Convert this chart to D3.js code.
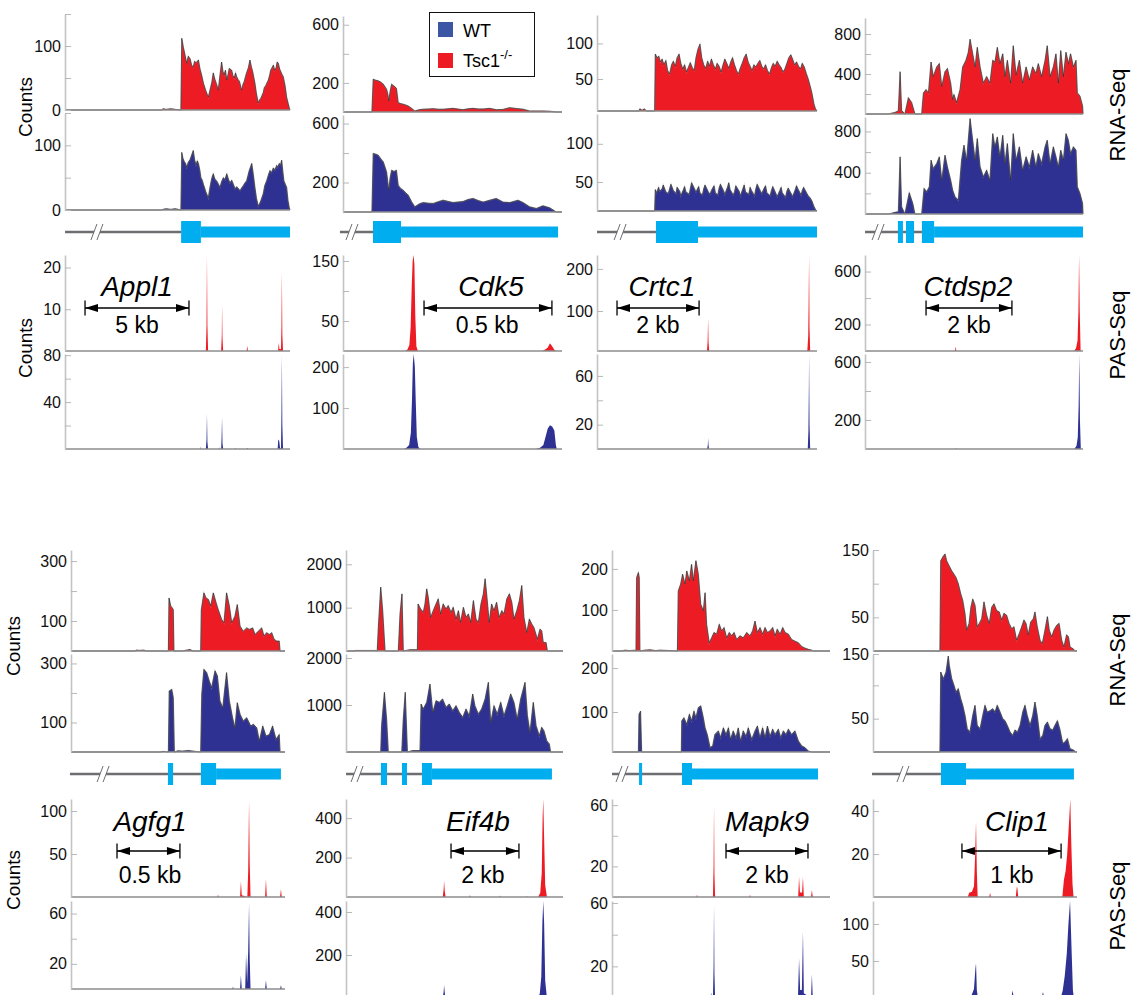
<!DOCTYPE html>
<html>
<head>
<meta charset="utf-8">
<script src="https://cdn.jsdelivr.net/npm/d3@7"></script>
<style>
  body { margin: 0; background: #fff; }
  svg { display: block; font-family: "Liberation Sans", Arial, sans-serif; }
</style>
</head>
<body>
<svg id="chart" width="1131" height="995"></svg>
<script>
// ---- data (positions are in 0-100 units along each gene window) ----
const geneNames = ['Appl1', 'Cdk5', 'Crtc1', 'Ctdsp2', 'Agfg1', 'Eif4b', 'Mapk9', 'Clip1'];
const scaleLabels = ['5 kb', '0.5 kb', '2 kb', '2 kb', '0.5 kb', '2 kb', '2 kb', '1 kb'];
const scaleBars = [[8.9, 55.1], [37, 95.4], [9.1, 46.4], [28, 67.4], [21.5, 50.9], [48.4, 79.7], [52.3, 89.9], [43.6, 92.2]];
const nameAt = [32, 67.6, 29.5, 47.2, 36.9, 60.8, 71.1, 70.6];
const kbAt = [32, 65.8, 27.7, 47.7, 36.9, 63.1, 71.1, 68.1];
const legendLabels = ['WT', 'Tsc1'];

// y domains and tick values per track
const rnaKODomain = [[0, 150], [0, 660], [5, 140], [0, 960], [0, 337], [0, 2330], [0, 246], [0, 150]];
const rnaWTDomain = [[0, 150], [0, 658], [12, 139], [0, 940], [0, 332], [0, 2085], [9, 232], [0, 147]];
const pasKODomain = [[0, 23], [0, 160], [5, 233], [0, 725], [0, 114], [0, 497], [0, 64], [0, 45.6]];
const pasWTDomain = [[0, 81], [0, 232], [0, 78], [0, 655], [0, 70], [0, 451], [0, 61.3], [0, 131]];
const rnaTicks = [[0, 100], [200, 600], [50, 100], [400, 800], [100, 300], [1000, 2000], [100, 200], [50, 150]];
const rnaMinor = [[50, 150], [400], [], [200, 600], [200], [], [], [100]];
const pasKOTicks = [[10, 20], [50, 150], [100, 200], [200, 600], [50, 100], [200, 400], [20, 60], [20, 40]];
const pasKOMinor = [[], [100], [], [400], [], [], [40], []];
const pasWTTicks = [[40, 80], [100, 200], [20, 60], [200, 600], [20, 60], [200, 400], [20, 60], [50, 100]];
const pasWTMinor = [[20, 60], [], [40], [400], [40], [], [40], []];

// gene models
const intronSpans = [[0, 51.6], [-1.4, 13.7], [0, 26.8], [0, 26.1], [-0.5, 60.7], [0, 35], [0, 32.1], [-0.5, 33.3]];
const breakAt = [14.2, 4.1, 10.5, 6.0, 15.0, 5.1, 4.6, 14.7];
const appl1Exons = [[51.6, 60.4, 1], [60.4, 100, 0]];
const cdk5Exons = [[13.7, 26.5, 1], [26.5, 98.2, 0]];
const crtc1Exons = [[26.8, 45.9, 1], [45.9, 100, 0]];
const ctdsp2Exons = [[15.1, 17.4, 1], [18.8, 22.5, 1], [26.1, 31.7, 1], [31.7, 100, 0]];
const agfg1Exons = [[45.3, 47.7, 1], [60.7, 67.8, 1], [67.8, 98.1, 0]];
const eif4bExons = [[16.1, 18.9, 1], [25.8, 28.1, 1], [35.0, 39.6, 1], [39.6, 94.9, 0]];
const mapk9Exons = [[12.4, 13.8, 1], [32.1, 36.7, 1], [36.7, 94.5, 0]];
const clip1Exons = [[33.3, 45.6, 1], [45.6, 98.5, 0]];

// RNA-Seq coverage [position, count]
const appl1RnaKO = [[0,0],[43,0],[43.5,2],[45,1],[47,2],[49,1],[51.5,0],[51.9,112],[52.6,98],[53.4,85],[54.1,73],[54.8,84],[55.6,80],[56.3,70],[57.0,67],[57.6,76],[58.2,74],[59.3,78],[60.0,64],[60.7,55],[61.5,42],[62.6,30],[63.7,20],[64.7,35],[65.3,44],[65.9,58],[66.6,48],[67.4,40],[68.1,31],[68.8,52],[69.6,75],[70.2,60],[70.7,55],[71.3,62],[71.9,47],[72.5,56],[73.0,65],[74.1,62],[74.6,54],[75.2,50],[75.8,58],[76.3,52],[77.0,47],[77.5,45],[78.5,31],[79.1,40],[79.7,45],[80.2,52],[80.7,58],[81.5,66],[82.2,78],[82.8,68],[83.4,60],[84.4,42],[85.1,25],[85.9,11],[86.5,16],[87.0,18],[88.1,27],[88.6,35],[89.2,38],[90.4,47],[91.0,55],[91.4,62],[92.0,66],[92.6,70],[93.2,62],[93.8,66],[94.3,75],[94.8,73],[95.4,64],[95.9,60],[96.4,56],[97.0,52],[97.8,38],[98.5,20],[99.2,10],[99.7,3],[100,0]];
const appl1RnaWT = [[0,0],[43,0],[43.5,1],[45,2],[47,1],[49,2],[51.5,0],[51.9,89],[52.4,80],[53.0,75],[53.6,72],[54.1,66],[54.8,74],[55.6,78],[56.3,85],[57.0,92],[57.6,78],[58.2,70],[58.8,76],[59.3,72],[59.9,62],[60.4,50],[61.0,46],[61.5,40],[62.6,28],[63.7,19],[64.2,30],[64.7,40],[65.3,50],[65.9,56],[66.6,48],[67.4,45],[68.2,40],[68.9,35],[69.6,44],[70.4,50],[71.1,47],[71.9,56],[72.6,48],[73.3,42],[74.1,46],[74.8,40],[75.6,33],[76.3,36],[77.1,33],[77.8,30],[78.5,34],[79.3,38],[80.0,42],[80.7,45],[81.3,53],[81.8,60],[82.4,66],[83.0,72],[83.7,55],[84.4,35],[85.1,18],[85.9,6],[86.5,10],[87.0,14],[88.1,25],[88.8,38],[89.6,45],[90.4,54],[91.1,61],[91.8,58],[92.6,65],[93.3,62],[94.1,69],[94.6,66],[95.2,72],[95.8,70],[96.3,77],[96.8,60],[97.3,45],[97.9,40],[98.5,35],[99.1,15],[99.7,3],[100,0]];
const cdk5RnaKO = [[0,0],[13.2,0],[13.8,225],[15.0,218],[16.1,214],[17.3,205],[18.4,191],[19.9,156],[20.5,120],[20.9,76],[21.5,140],[22.2,191],[23.3,178],[24.4,163],[25.2,64],[26.3,58],[27.5,53],[28.6,48],[29.8,41],[31.3,25],[32.8,7],[34.8,16],[36.6,19],[39.0,21],[41.2,23],[43.5,19],[45.7,19],[48.0,22],[50.3,25],[52.6,20],[54.8,16],[57.1,22],[59.4,25],[61.7,21],[64.0,21],[67.0,25],[70.0,16],[73.1,18],[76.1,30],[79.0,24],[82.2,19],[85.2,7],[88.3,7],[91.3,7],[94.4,5],[97.4,0],[100,0]];
const cdk5RnaWT = [[0,0],[13.2,0],[13.8,397],[15.0,392],[16.1,385],[17.3,360],[18.4,340],[19.9,272],[20.9,148],[21.5,230],[22.2,283],[23.3,275],[24.4,283],[25.2,182],[26.3,160],[27.5,148],[28.6,130],[29.8,114],[31.3,70],[32.8,35],[34.8,55],[36.6,64],[38.9,60],[41.2,58],[43.5,70],[45.7,80],[48.0,72],[50.3,64],[52.6,68],[54.8,71],[57.1,85],[59.4,92],[61.7,78],[64.0,67],[67.0,80],[70.0,92],[73.1,67],[76.1,64],[78.0,72],[79.9,80],[82.2,64],[85.2,35],[88.3,24],[91.3,42],[94.4,28],[97.4,0],[100,0]];
const crtc1RnaKO = [[0,5],[19,5],[19.5,8],[20.5,6],[21.5,8],[22.5,5],[26.2,5],[26.5,85],[27.3,80],[28.1,82],[28.8,74],[29.6,78],[30.4,70],[31.3,76],[32.1,62],[33.0,57],[33.9,70],[34.7,75],[35.6,68],[36.4,80],[37.3,85],[38.1,72],[39.0,64],[39.8,70],[40.7,60],[41.6,67],[42.4,73],[43.3,66],[44.2,62],[45.0,80],[45.9,92],[46.8,99],[47.6,80],[48.5,70],[49.4,65],[50.3,75],[51.1,68],[52.0,78],[52.9,70],[53.8,64],[54.6,72],[55.5,68],[56.4,60],[57.3,70],[58.1,78],[59.0,72],[59.9,65],[60.8,74],[61.6,80],[62.5,70],[63.4,62],[64.3,57],[65.2,66],[66.0,72],[66.9,80],[67.8,85],[68.7,74],[69.6,68],[70.5,62],[71.3,70],[72.2,67],[73.1,72],[74.0,76],[74.9,68],[75.7,64],[76.6,70],[77.5,62],[78.4,57],[79.3,66],[80.1,72],[81.0,68],[81.9,75],[82.8,70],[83.7,66],[84.5,60],[85.4,64],[86.3,72],[87.2,80],[88.1,84],[88.9,78],[89.8,70],[90.7,74],[91.6,68],[92.5,64],[93.3,72],[94.2,67],[95.1,58],[96.0,50],[96.9,40],[97.7,30],[98.6,15],[99.3,8],[100,5]];
const crtc1RnaWT = [[0,12],[26.2,12],[26.5,40],[27.1,36],[28.0,43],[28.5,38],[29.6,41],[30.1,46],[31.3,37],[32.4,35],[33.0,41],[33.6,47],[34.7,39],[35.9,35],[36.4,43],[37.6,38],[38.1,32],[39.3,40],[39.8,44],[40.4,37],[41.9,34],[42.4,41],[43.0,49],[44.5,40],[45.0,37],[46.2,44],[46.8,36],[47.9,33],[48.5,41],[49.1,46],[50.6,37],[51.4,34],[52.0,39],[53.2,45],[53.8,36],[54.9,33],[55.5,42],[56.1,47],[57.6,38],[58.1,34],[59.3,43],[59.9,49],[60.5,40],[61.9,33],[62.5,37],[63.1,45],[64.6,38],[65.2,32],[66.3,41],[66.9,46],[67.5,37],[69.0,34],[69.6,43],[70.2,39],[71.6,32],[72.2,41],[72.8,47],[74.3,38],[74.9,35],[76.0,42],[76.6,45],[77.2,36],[78.7,32],[79.3,39],[79.9,44],[81.3,35],[81.9,31],[83.1,39],[83.7,43],[84.2,36],[85.7,30],[86.3,38],[86.9,42],[88.4,34],[88.9,31],[90.0,39],[90.7,45],[91.3,41],[92.8,33],[93.3,39],[93.9,43],[95.4,35],[96.0,32],[96.9,29],[97.7,25],[98.6,18],[99.3,14],[100,12]];
const ctdsp2RnaKO = [[0,0],[10.7,0],[13.8,16],[15.3,32],[16.1,423],[16.8,34],[18.3,0],[19.9,163],[21.4,114],[22.9,0],[26.0,0],[26.8,211],[28.0,244],[29.1,211],[30.3,520],[31.3,374],[32.9,471],[34.1,504],[35.2,276],[36.7,423],[37.8,455],[39.3,309],[40.2,146],[40.8,195],[42.0,114],[43.6,244],[44.8,471],[46.3,537],[47.4,618],[48.2,748],[49.4,602],[50.5,471],[51.5,667],[52.8,471],[54.3,309],[55.8,374],[57.3,309],[58.6,537],[59.6,520],[60.7,667],[61.9,504],[63.2,602],[64.2,374],[65.3,537],[66.8,309],[68.0,683],[69.3,390],[70.8,537],[72.3,309],[73.9,471],[75.4,341],[76.9,471],[78.4,406],[79.5,504],[81.0,374],[82.6,537],[83.6,683],[84.9,374],[86.4,471],[87.6,602],[88.7,309],[89.8,634],[91.0,374],[92.2,618],[93.3,504],[94.3,602],[95.6,471],[96.8,537],[97.4,211],[98.6,179],[99.8,81],[100,0]];
const ctdsp2RnaWT = [[0,0],[10.7,0],[12.2,7],[13.8,16],[15.3,23],[16.1,554],[16.8,71],[18.3,0],[20.3,206],[21.9,103],[22.9,0],[26.0,0],[27.1,248],[28.3,216],[29.5,264],[30.3,522],[31.3,441],[32.9,490],[34.1,554],[35.2,328],[36.7,570],[37.8,457],[39.3,328],[40.2,232],[41.3,167],[42.8,135],[44.3,522],[45.4,667],[46.6,522],[48.2,925],[49.4,715],[50.5,522],[51.5,731],[52.8,457],[54.3,361],[55.8,425],[57.3,328],[58.6,779],[59.6,651],[60.7,747],[61.9,554],[63.2,763],[64.2,490],[65.3,683],[66.8,328],[68.0,779],[69.3,522],[70.8,651],[72.3,425],[73.9,554],[75.4,457],[76.9,618],[78.4,457],[79.5,586],[81.0,490],[82.6,651],[83.6,715],[84.9,490],[86.4,651],[87.6,554],[88.7,457],[89.8,618],[91.0,522],[92.2,779],[93.3,715],[94.3,586],[95.6,651],[96.8,618],[97.4,264],[98.6,200],[99.8,103],[100,0]];
const agfg1RnaKO = [[0,0],[29.9,0],[30.5,3],[32,2],[34,3],[35.4,0],[45.5,0],[45.8,177],[46.6,150],[47.2,145],[47.8,138],[48.1,0],[52,0],[55.6,5],[57,0],[60.6,0],[60.9,138],[61.5,166],[62.1,194],[63.1,177],[64.2,172],[65.3,150],[66.5,194],[67.8,161],[68.8,138],[70.4,105],[71.5,94],[72.7,194],[74.0,150],[75.1,94],[76.6,116],[77.7,155],[79.0,83],[80.5,66],[82.1,77],[83.3,72],[84.9,77],[86.0,55],[87.5,66],[89.1,77],[90.2,50],[91.4,61],[92.7,55],[93.8,61],[94.9,39],[96.1,33],[97.3,33],[97.7,0],[100,0]];
const agfg1RnaWT = [[0,0],[41.6,0],[43,2],[45.5,0],[45.9,207],[47.1,212],[47.8,184],[48.3,0],[50,4],[52,3],[55,5],[58,2],[60.6,0],[61.1,196],[62.1,280],[63.4,269],[64.6,241],[65.7,218],[67.3,275],[68.4,258],[69.6,173],[70.9,150],[72.7,269],[74.0,173],[75.5,116],[76.6,82],[77.7,167],[79.0,128],[80.5,105],[82.1,116],[84.0,88],[85.2,94],[86.8,82],[88.0,37],[89.6,88],[91.1,54],[92.7,59],[94.2,88],[95.8,43],[97.3,59],[97.7,0],[100,0]];
const eif4bRnaKO = [[0,0],[3.9,0],[4.1,10],[13.4,10],[14.4,0],[14.9,542],[16.0,1473],[16.9,930],[18.0,0],[24.1,0],[24.9,853],[25.8,1318],[26.4,0],[29.5,30],[32.9,30],[33.2,1085],[34.4,969],[35.6,891],[36.4,1085],[37.2,1434],[37.9,1240],[39.0,775],[40.2,930],[41.5,1085],[42.5,1202],[43.6,853],[44.8,1085],[46.1,969],[47.1,1047],[48.4,891],[49.4,1008],[50.7,736],[51.8,930],[52.8,659],[54.1,1008],[55.3,775],[56.4,853],[57.5,659],[58.7,1163],[59.9,736],[61.0,659],[62.2,1085],[63.3,1318],[64.1,1667],[64.8,1318],[66.0,659],[67.1,1085],[68.2,930],[69.4,1124],[70.6,775],[71.8,930],[72.8,853],[74.1,1202],[75.3,1318],[76.4,1124],[77.4,736],[78.7,930],[79.9,1163],[81.0,1512],[82.0,775],[83.3,426],[84.5,736],[85.6,620],[86.6,542],[88.2,271],[89.4,504],[90.2,465],[90.9,194],[92.2,194],[92.8,0],[100,0]];
const eif4bRnaWT = [[0,0],[16.0,0],[16.4,560],[17.7,1270],[18.7,702],[19.5,0],[25.7,0],[26.4,702],[27.3,1270],[28.3,0],[30.7,30],[34.1,30],[34.6,1021],[35.6,915],[37.2,1057],[38.7,1447],[40.0,845],[41.5,1092],[43.0,1057],[44.5,1128],[46.1,951],[47.6,1021],[49.2,879],[50.7,986],[52.2,845],[53.8,738],[55.3,915],[56.8,773],[58.4,1234],[59.4,986],[61.0,809],[62.5,915],[64.1,1128],[65.6,1482],[66.7,631],[68.2,986],[69.7,809],[71.3,1057],[72.8,773],[74.3,986],[75.9,1234],[77.4,1057],[78.9,702],[80.5,1128],[82.5,1482],[83.6,773],[84.8,419],[86.3,1057],[87.6,560],[89.1,347],[90.2,525],[91.2,454],[92.5,241],[93.7,170],[94.3,0],[100,0]];
const mapk9RnaKO = [[0,0],[4.4,0],[6,2],[8,1],[10.6,2],[11.0,0],[11.3,179],[12.1,191],[12.5,179],[12.8,0],[15,2],[17.4,3],[20,1],[22.0,2],[26.6,1],[30.0,0],[30.4,146],[31.5,163],[32.4,187],[33.5,163],[34.3,195],[35.5,171],[36.5,211],[37.3,171],[38.5,220],[39.6,187],[40.7,114],[41.9,98],[42.7,142],[43.4,65],[44.6,20],[45.7,32],[46.8,45],[48.0,41],[49.2,65],[50.3,49],[51.4,57],[52.6,32],[53.8,45],[54.9,37],[56.0,45],[57.2,28],[58.7,37],[60.2,32],[61.8,45],[63.3,37],[64.5,49],[65.6,73],[66.7,45],[67.9,57],[69.1,41],[70.2,57],[71.3,45],[72.5,49],[73.7,57],[74.8,37],[75.8,53],[77.1,41],[78.3,57],[79.4,45],[80.9,41],[82.4,28],[83.9,24],[85.5,20],[87.0,11],[88.5,7],[90.1,4],[91.6,2],[92.4,0],[100,0]];
const mapk9RnaWT = [[0,0],[4.4,0],[7,2],[10,1],[12.1,0],[12.4,95],[13.1,102],[13.6,0],[17,2],[22,2],[27,1],[31.8,0],[32.0,80],[33.0,87],[34.3,72],[35.5,95],[36.5,80],[37.6,102],[38.5,87],[39.6,110],[40.7,114],[41.9,87],[42.7,64],[43.7,49],[45.0,19],[46.2,23],[47.2,49],[48.8,57],[49.8,42],[51.1,64],[52.3,49],[53.4,64],[54.4,38],[55.6,57],[56.9,42],[57.9,64],[59.0,34],[60.2,57],[61.5,45],[62.5,64],[64.1,38],[65.6,57],[66.7,68],[67.9,42],[69.1,64],[70.2,42],[71.3,68],[72.5,45],[73.7,61],[74.8,49],[76.3,61],[77.4,42],[78.6,57],[79.8,49],[80.9,61],[82.4,49],[83.9,57],[85.5,34],[87.0,23],[88.5,19],[90.1,11],[91.6,8],[93.1,3],[93.9,0],[100,0]];
const clip1RnaKO = [[0,0],[32.8,0],[33.2,134],[34.5,141],[35.3,144],[36.1,134],[37.4,126],[38.6,119],[39.7,114],[40.7,109],[41.8,100],[43.0,85],[44.0,75],[45.1,55],[45.9,31],[47.1,41],[48.0,65],[48.9,77],[50.0,68],[51.1,36],[52.1,41],[53.3,48],[54.4,73],[55.7,53],[57.0,41],[58.2,65],[59.3,70],[60.6,60],[61.9,58],[63.1,46],[64.2,56],[65.5,53],[66.7,41],[68.0,33],[69.1,36],[70.4,16],[71.7,26],[72.9,36],[74.0,46],[75.0,41],[76.1,24],[77.3,43],[78.6,48],[79.4,58],[80.5,36],[81.9,16],[83.0,11],[84.3,31],[85.5,51],[86.4,31],[87.6,21],[88.7,31],[90.0,38],[91.2,41],[92.5,16],[93.6,6],[94.9,24],[95.8,21],[96.6,6],[98.2,3],[99.0,0],[100,0]];
const clip1RnaWT = [[0,0],[32.8,0],[33.2,120],[34.5,110],[35.8,120],[36.9,144],[37.4,130],[38.6,110],[39.7,100],[40.7,90],[41.8,95],[43.0,80],[44.0,70],[45.1,55],[46.2,35],[47.5,30],[48.9,55],[50.0,70],[51.1,40],[52.5,35],[53.8,55],[54.9,70],[56.0,60],[57.4,62],[58.7,65],[59.8,60],[60.9,70],[62.3,60],[63.6,50],[64.7,47],[65.8,40],[67.2,30],[68.5,25],[69.6,33],[70.8,30],[72.1,40],[73.4,60],[74.5,70],[75.6,55],[77.0,40],[78.3,55],[79.4,75],[80.5,55],[81.9,20],[83.2,25],[84.3,40],[85.5,45],[86.8,35],[88.1,33],[89.2,40],[90.4,47],[91.7,33],[93.0,13],[94.1,15],[95.3,20],[96.6,5],[98.2,3],[99.5,0],[100,0]];

// PAS-Seq reads [position, count]
const appl1PasKO = [[0,0],[62.6,0],[62.9,6],[63.1,23],[63.3,6],[63.6,0],[69.4,0],[69.7,4],[69.8,11],[70.0,3],[70.3,0],[80.7,0],[81,1.2],[81.3,0],[94.7,0],[95,2],[95.3,0.5],[96.0,0.5],[96.2,6],[96.4,19],[96.6,4],[96.9,0],[100,0]];
const appl1PasWT = [[0,0],[59.9,0],[60.1,2],[60.3,0],[62.6,0],[62.9,8],[63.1,30],[63.3,6],[63.6,0],[68.3,0],[68.5,1.5],[68.7,0],[69.4,0],[69.6,10],[69.8,27],[70.0,5],[70.3,0],[75.5,0],[75.7,1],[75.9,0],[80.7,0],[81,1],[81.3,0],[94.5,0],[94.8,8],[95.2,7],[95.6,0.5],[96.0,1],[96.2,30],[96.4,80],[96.6,20],[96.9,0],[100,0]];
const cdk5PasKO = [[0,0],[28.5,0],[29.5,3],[30.3,10],[30.9,40],[31.4,110],[31.8,150],[32.2,160],[32.6,145],[33.0,60],[33.5,8],[34.2,0],[91.0,0],[92.5,3],[93.5,6],[94.5,13],[95.5,8],[96.5,2],[97.5,0],[100,0]];
const cdk5PasWT = [[0,0],[27.8,0],[29.0,3],[30.2,10],[31.0,40],[31.5,120],[31.9,210],[32.3,232],[32.8,200],[33.2,120],[33.7,30],[34.4,5],[35.2,0],[88.0,0],[90.0,3],[91.5,10],[92.5,30],[93.5,50],[94.5,58],[95.5,55],[96.5,45],[97.2,10],[97.6,0],[100,0]];
const crtc1PasKO = [[0,5],[50.0,5],[50.3,30],[50.5,83],[50.7,25],[51.0,5],[95.6,5],[96.0,40],[96.2,120],[96.4,233],[96.6,60],[96.9,5],[100,5]];
const crtc1PasWT = [[0,0],[50.1,0],[50.4,4],[50.5,9],[50.7,3],[50.9,0],[95.8,0],[96.1,15],[96.3,50],[96.4,78],[96.6,20],[96.9,0],[100,0]];
const ctdsp2PasKO = [[0,0],[41.3,0],[41.6,34],[41.9,0],[95.9,0],[96.8,20],[97.5,80],[97.9,300],[98.2,725],[98.5,300],[98.9,0],[100,0]];
const ctdsp2PasWT = [[0,0],[41.4,0],[41.7,5],[42.0,0],[96.0,0],[97.0,20],[97.6,80],[98.0,300],[98.3,655],[98.6,200],[99.0,0],[100,0]];
const agfg1PasKO = [[0,0],[68.4,0],[68.7,3],[69.0,0],[79.0,0],[79.4,18],[79.8,2],[82.4,0],[82.8,30],[83.2,112],[83.5,40],[83.9,0],[90.7,0],[91.1,21],[91.5,0],[97.7,0],[98.1,9],[98.5,0],[100,0]];
const agfg1PasWT = [[0,0],[75.4,0],[75.7,2],[76.0,0],[79.0,0],[79.4,11],[79.8,0],[81.4,0],[81.8,28],[82.3,5],[82.8,30],[83.2,68],[83.5,25],[83.9,0],[90.7,0],[91.1,7],[91.5,0],[97.7,0],[98.1,3],[98.5,0],[100,0]];
const eif4bPasKO = [[0,0],[44.6,0],[45.0,40],[45.2,82],[45.5,30],[45.9,0],[56.8,0],[57.1,10],[57.4,0],[70.7,0],[71.0,8],[71.3,0],[83.1,0],[83.4,5],[83.7,0],[88.5,0],[89.5,20],[90.2,120],[90.6,400],[90.9,497],[91.3,300],[91.8,60],[92.6,0],[100,0]];
const eif4bPasWT = [[0,0],[44.6,0],[45.0,30],[45.2,60],[45.5,25],[45.9,0],[88.3,0],[89.3,20],[90.0,100],[90.5,350],[90.9,451],[91.3,350],[91.8,80],[92.6,0],[100,0]];
const mapk9PasKO = [[0,0],[38.7,0],[39.0,1.5],[39.3,0],[46.3,0],[46.6,20],[46.8,60],[47.0,15],[47.3,0],[63.0,0],[63.3,1.5],[63.6,0],[85.4,0],[85.8,13],[86.2,3],[87.2,3],[87.6,13],[88.0,0],[91.3,0],[91.7,4.6],[92.1,0],[100,0]];
const mapk9PasWT = [[0,0],[45.2,0],[45.5,3.5],[45.8,0],[46.3,0],[46.6,20],[46.8,59],[47.0,15],[47.3,0],[85.3,0],[85.8,25],[86.3,5],[87.1,5],[87.6,42],[88.0,3],[91.3,0],[91.7,15],[92.1,0],[100,0]];
const clip1PasKO = [[0,0],[46.5,0],[47.1,2],[48.5,2.5],[49.5,5],[50.1,20],[50.5,35],[50.9,12],[51.3,0],[57.0,0],[57.4,2],[57.8,0],[70.0,0],[70.4,4],[70.6,5],[70.9,3],[71.2,0],[92.8,0],[93.6,8],[94.4,12],[95.2,20],[95.8,30],[96.4,40],[96.7,46],[97.2,25],[97.8,6],[98.3,0],[100,0]];
const clip1PasWT = [[0,0],[47.5,0],[48.5,5],[49.5,12],[50.2,40],[50.5,47],[50.9,10],[51.5,0],[67.8,0],[68.4,10],[68.9,2],[69.4,0],[82.7,0],[83.3,8],[83.8,2],[84.3,0],[92.0,0],[93.0,10],[94.0,30],[95.0,60],[95.8,100],[96.6,131],[97.4,60],[98.0,10],[98.5,0],[100,0]];

// ---- layout ----
const colX = [[65, 290], [343, 562], [597, 817], [865, 1083], [71, 285], [346, 563], [612, 830], [873, 1077]];
const rowY = [
  { rnaKO: [16, 112], rnaWT: [115, 212], model: 232, pasKO: [255, 351], pasWT: [354, 449], name: 296, bar: 308, kb: 333 },
  { rnaKO: [550, 651], rnaWT: [654, 752], model: 774, pasKO: [799, 897], pasWT: [901, 998], name: 831, bar: 851, kb: 883 },
];
const rnaShift = [-2, 0, -1, 2, 0, 0, 0, 0];
const pasWTBottomFix = { 4: 989 };

const KO_RED = '#ed1c24';
const WT_BLUE = '#2e3192';
const EXON = '#00aeef';
const INTRON = '#6d6e71';
const FONT = '"Liberation Sans", Arial, sans-serif';

const genes = geneNames.map((name, i) => ({
  name,
  rnaKO: [appl1RnaKO, cdk5RnaKO, crtc1RnaKO, ctdsp2RnaKO, agfg1RnaKO, eif4bRnaKO, mapk9RnaKO, clip1RnaKO][i],
  rnaWT: [appl1RnaWT, cdk5RnaWT, crtc1RnaWT, ctdsp2RnaWT, agfg1RnaWT, eif4bRnaWT, mapk9RnaWT, clip1RnaWT][i],
  pasKO: [appl1PasKO, cdk5PasKO, crtc1PasKO, ctdsp2PasKO, agfg1PasKO, eif4bPasKO, mapk9PasKO, clip1PasKO][i],
  pasWT: [appl1PasWT, cdk5PasWT, crtc1PasWT, ctdsp2PasWT, agfg1PasWT, eif4bPasWT, mapk9PasWT, clip1PasWT][i],
  exons: [appl1Exons, cdk5Exons, crtc1Exons, ctdsp2Exons, agfg1Exons, eif4bExons, mapk9Exons, clip1Exons][i],
}));

const svg = d3.select('#chart');

function drawTrack(data, x, top, bottom, domain, ticks, minor, color, outline) {
  const y = d3.scaleLinear().domain(domain).range([bottom, top]).clamp(true);
  const g = svg.append('g');

  g.append('path')
    .attr('d', d3.area().x(d => x(d[0])).y0(bottom).y1(d => y(d[1]))(data))
    .attr('fill', color);

  if (outline) { // dark edge on top of the coverage
    const line = d3.line().x(d => x(d[0])).y(d => y(d[1]));
    g.append('path').attr('d', line(data)).attr('fill', 'none')
      .attr('stroke', '#9a9a9a').attr('stroke-width', 1.4).attr('stroke-opacity', 0.4);
    g.append('path').attr('d', line(data)).attr('fill', 'none')
      .attr('stroke', '#1a1a1a').attr('stroke-width', 0.6);
  }

  g.append('line') // baseline
    .attr('x1', x.range()[0]).attr('x2', x.range()[1])
    .attr('y1', bottom).attr('y2', bottom)
    .attr('stroke', '#8c8c8c').attr('stroke-width', 1.3);

  const ax = g.append('g')
    .attr('transform', `translate(${x.range()[0]},0)`)
    .call(d3.axisLeft(y).tickValues(ticks).tickFormat(d3.format('d'))
      .tickSize(-6).tickSizeOuter(0).tickPadding(4));
  ax.attr('font-size', 16).attr('font-family', FONT);
  ax.select('.domain').attr('stroke', '#c4c4c4').attr('stroke-width', 1.6);
  ax.selectAll('.tick line').attr('stroke', '#b8b8b8');
  ax.selectAll('.tick text').attr('fill', '#111');

  if (minor.length) {
    const mx = g.append('g')
      .attr('transform', `translate(${x.range()[0]},0)`)
      .call(d3.axisLeft(y).tickValues(minor).tickSize(-6).tickSizeOuter(0).tickFormat(''));
    mx.select('.domain').remove();
    mx.selectAll('.tick line').attr('stroke', '#b8b8b8');
  }
}

function drawModel(i, x, cy) {
  const g = svg.append('g');
  g.append('line')
    .attr('x1', x(intronSpans[i][0])).attr('x2', x(intronSpans[i][1]))
    .attr('y1', cy).attr('y2', cy)
    .attr('stroke', INTRON).attr('stroke-width', 2.6);
  const bx = x(breakAt[i]); // "//" break in the intron
  g.append('rect').attr('x', bx - 3).attr('y', cy - 3).attr('width', 6).attr('height', 6).attr('fill', '#fff');
  [-3, 3].forEach(o => {
    g.append('line')
      .attr('x1', bx + o - 3).attr('y1', cy + 8).attr('x2', bx + o + 3).attr('y2', cy - 8)
      .attr('stroke', INTRON).attr('stroke-width', 1);
  });
  genes[i].exons.forEach(e => {
    const h = e[2] ? 11 : 5.5;
    g.append('rect')
      .attr('x', x(e[0])).attr('width', x(e[1]) - x(e[0]))
      .attr('y', cy - h).attr('height', 2 * h)
      .attr('fill', EXON);
  });
}

function drawScaleBar(i, x, row) {
  const g = svg.append('g');
  const x1 = x(scaleBars[i][0]);
  const x2 = x(scaleBars[i][1]);
  const yb = row.bar;
  g.append('line').attr('x1', x1).attr('x2', x2).attr('y1', yb).attr('y2', yb)
    .attr('stroke', '#000').attr('stroke-width', 1.3);
  [x1, x2].forEach(xx => {
    g.append('line').attr('x1', xx).attr('x2', xx).attr('y1', yb - 7.5).attr('y2', yb + 7.5)
      .attr('stroke', '#000').attr('stroke-width', 1.3);
  });
  g.append('path').attr('d', `M${x1},${yb}L${x1 + 13},${yb - 4}L${x1 + 13},${yb + 4}Z`).attr('fill', '#000');
  g.append('path').attr('d', `M${x2},${yb}L${x2 - 13},${yb - 4}L${x2 - 13},${yb + 4}Z`).attr('fill', '#000');

  svg.append('text')
    .attr('x', x(nameAt[i])).attr('y', row.name)
    .attr('text-anchor', 'middle').attr('font-size', 28).attr('font-style', 'italic')
    .attr('font-family', FONT)
    .text(genes[i].name);
  svg.append('text')
    .attr('x', x(kbAt[i])).attr('y', row.kb)
    .attr('text-anchor', 'middle').attr('font-size', 23)
    .attr('font-family', FONT)
    .text(scaleLabels[i]);
}

genes.forEach((gene, i) => {
  const row = rowY[i < 4 ? 0 : 1];
  const x = d3.scaleLinear().domain([0, 100]).range(colX[i]);
  const s = rnaShift[i];
  const wtBottom = pasWTBottomFix[i] || row.pasWT[1];

  drawTrack(gene.rnaKO, x, row.rnaKO[0] + s, row.rnaKO[1] + s, rnaKODomain[i], rnaTicks[i], rnaMinor[i], KO_RED, true);
  drawTrack(gene.rnaWT, x, row.rnaWT[0] + s, row.rnaWT[1] + s, rnaWTDomain[i], rnaTicks[i], rnaMinor[i], WT_BLUE, true);
  drawModel(i, x, row.model);
  drawTrack(gene.pasKO, x, row.pasKO[0], row.pasKO[1], pasKODomain[i], pasKOTicks[i], pasKOMinor[i], KO_RED, false);
  drawTrack(gene.pasWT, x, row.pasWT[0], wtBottom, pasWTDomain[i], pasWTTicks[i], pasWTMinor[i], WT_BLUE, false);
  drawScaleBar(i, x, row);
});

// side labels
const sideLabels = [
  ['Counts', 32, 107, 19], ['Counts', 32, 348, 19], ['Counts', 20, 646, 19], ['Counts', 20, 880, 19],
  ['RNA-Seq', 1125, 115, 22], ['PAS-Seq', 1125, 335, 22], ['RNA-Seq', 1125, 660, 22], ['PAS-Seq', 1125, 906, 22],
];
sideLabels.forEach(([t, lx, ly, fs]) => {
  svg.append('text')
    .attr('transform', `translate(${lx},${ly}) rotate(-90)`)
    .attr('text-anchor', 'middle').attr('font-size', fs).attr('font-family', FONT)
    .text(t);
});

// legend
const legend = svg.append('g');
legend.append('rect')
  .attr('x', 429.5).attr('y', 12.5).attr('width', 105).attr('height', 64)
  .attr('fill', '#fff').attr('stroke', '#111').attr('stroke-width', 1);
[['#3c56a6', 22, 37], [KO_RED, 53, 67]].forEach(([c, sy, ty], k) => {
  legend.append('rect').attr('x', 438).attr('y', sy).attr('width', 15).attr('height', 15).attr('fill', c);
  const t = legend.append('text').attr('x', 463).attr('y', ty)
    .attr('font-size', 18).attr('font-family', FONT).text(legendLabels[k]);
  if (k === 1) t.append('tspan').attr('dy', -8).attr('font-size', 13).text('-/-');
});
</script>
</body>
</html>
